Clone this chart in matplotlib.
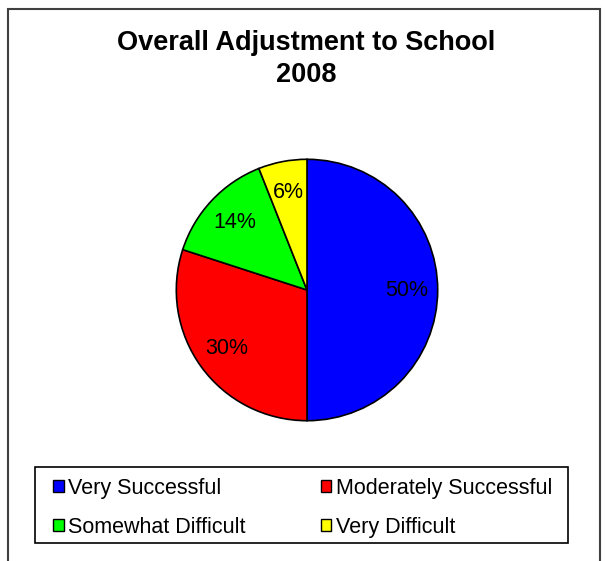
import matplotlib
matplotlib.use("Agg")
import matplotlib.pyplot as plt
from matplotlib.patches import Rectangle, Patch

plt.rcParams['font.family'] = ['Liberation Sans', 'DejaVu Sans']

categories = ['Very Successful', 'Moderately Successful', 'Somewhat Difficult', 'Very Difficult']
shares = [50, 30, 14, 6]
colors = ['#0000FF', '#FF0000', '#00FF00', '#FFFF00']

W, H = 605, 561
fig = plt.figure(figsize=(W / 100, H / 100), dpi=100)

# outer chart border (runs off the bottom edge)
fig.add_artist(Rectangle((8 / W, -0.05), (600 - 8) / W, 1.05 - 9 / H,
                         transform=fig.transFigure, fill=False,
                         edgecolor='#404040', linewidth=1.5))

fig.text(306 / W, 1 - 43 / H, 'Overall Adjustment to School', ha='center', va='center',
         fontsize=19.5, fontweight='bold')
fig.text(306 / W, 1 - 75 / H, '2008', ha='center', va='center',
         fontsize=19.5, fontweight='bold')

# pie axes: centre (307, 290), radius 132 px
cx, cy, r = 307, 290, 132
ax = fig.add_axes([(cx - r) / W, 1 - (cy + r) / H, 2 * r / W, 2 * r / H])
wedges, texts, autotexts = ax.pie(shares, colors=colors, startangle=90, counterclock=False,
                                  autopct='%d%%', pctdistance=0.76,
                                  wedgeprops=dict(edgecolor='black', linewidth=1.2),
                                  textprops=dict(fontsize=15.5, color='black'))
ax.set_xlim(-1.01, 1.01)
ax.set_ylim(-1.01, 1.01)
ax.set_aspect('equal')
ax.axis('off')

# legend box drawn separately so the inner padding can differ from the frame
fig.add_artist(Rectangle((35 / W, 1 - 543 / H), (568 - 35) / W, (543 - 467) / H,
                         transform=fig.transFigure, fill=False,
                         edgecolor='black', linewidth=1.2))

# legend reads row by row; matplotlib fills columns first
handles = [Patch(facecolor=c, edgecolor='black', linewidth=1) for c in colors]
order = [0, 2, 1, 3]
leg = fig.legend([handles[i] for i in order], [categories[i] for i in order],
                 ncol=2, loc='upper left',
                 bbox_to_anchor=(53 / W, 1 - 538 / H, (552 - 53) / W, 60 / H),
                 mode='expand', fontsize=15.5, frameon=False,
                 handlelength=0.5, handleheight=0.5, handletextpad=0.2,
                 labelspacing=0.83, borderpad=0, borderaxespad=0)

fig.savefig('out.png', dpi=100)
